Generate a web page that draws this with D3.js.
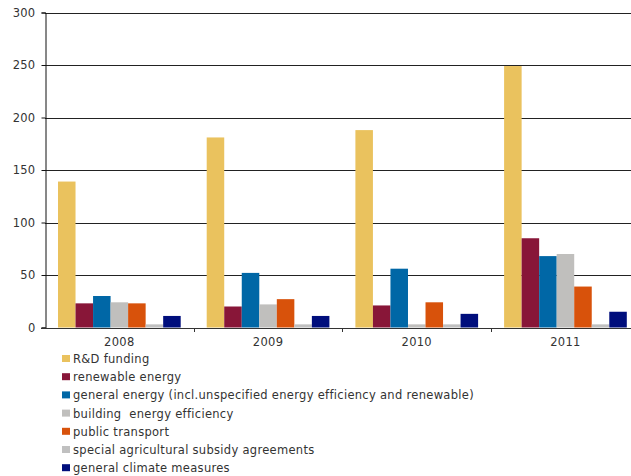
<!DOCTYPE html>
<html>
<head>
<meta charset="utf-8">
<script src="https://cdn.jsdelivr.net/npm/d3@7"></script>
<style>
  html, body { margin: 0; padding: 0; background: #fff; }
  svg { display: block; }
  text { font-family: "DejaVu Sans", Verdana, sans-serif; fill: #333; letter-spacing: 0.3px; }
</style>
</head>
<body>
<svg id="chart" width="631" height="476"></svg>
<script>
// Years on the x axis
const years = ["2008", "2009", "2010", "2011"];

// Funding categories (legend order)
const seriesNames = [
  "R&D funding",
  "renewable energy",
  "general energy (incl.unspecified energy efficiency and renewable)",
  "building  energy efficiency",
  "public transport",
  "special agricultural subsidy agreements",
  "general climate measures"
];

// One array per category, values for 2008..2011
const rdFunding        = [139, 181, 188, 249];
const renewableEnergy  = [23, 20, 21, 85];
const generalEnergy    = [30, 52, 56, 68];
const buildingEff      = [24, 22, 3, 70];
const publicTransport  = [23, 27, 24, 39];
const agriAgreements   = [3, 3, 3, 3];
const climateMeasures  = [11, 11, 13, 15];

const yTicks = [0, 50, 100, 150, 200, 250, 300];

const seriesValues = [rdFunding, renewableEnergy, generalEnergy, buildingEff,
                      publicTransport, agriAgreements, climateMeasures];
const colors = ["#EAC25E", "#881638", "#0067A6", "#C0BFBD", "#D8520B", "#C0C0C0", "#000E7C"];

const svg = d3.select("#chart");
const margin = { left: 45, top: 12.5, bottom: 327.5 };
const bandStep = 148.7;
const plotRight = margin.left + bandStep * years.length;

const x = d3.scaleBand()
  .domain(years)
  .range([margin.left, plotRight])
  .paddingInner(0)
  .paddingOuter(0);

const xs = d3.scaleBand()
  .domain(d3.range(seriesNames.length))
  .range([13, bandStep - 13])
  .padding(0);

const y = d3.scaleLinear()
  .domain([0, 300])
  .range([margin.bottom, margin.top]);

// Horizontal gridlines
svg.append("g")
  .selectAll("line")
  .data(yTicks.filter(d => d > 0))
  .join("line")
  .attr("x1", margin.left)
  .attr("x2", 631)
  .attr("y1", d => Math.round(y(d)) + 0.5)
  .attr("y2", d => Math.round(y(d)) + 0.5)
  .attr("stroke", "#222")
  .attr("stroke-width", 1);

// Bars
const groups = svg.append("g")
  .selectAll("g")
  .data(years)
  .join("g")
  .attr("transform", d => `translate(${x(d)},0)`);

groups.selectAll("rect")
  .data((yr, i) => seriesValues.map((vals, s) => ({ s, v: vals[i] })))
  .join("rect")
  .attr("x", d => xs(d.s))
  .attr("width", xs.bandwidth())
  .attr("y", d => y(d.v))
  .attr("height", d => y(0) - y(d.v))
  .attr("fill", d => colors[d.s]);

// Y axis
const yAxis = d3.axisLeft(y)
  .tickValues(yTicks)
  .tickSize(4)
  .tickPadding(6);
const gy = svg.append("g")
  .attr("transform", `translate(${margin.left + 0.5},0)`)
  .call(yAxis);
gy.select(".domain").attr("stroke", "#111");
gy.selectAll(".tick line").attr("stroke", "#111");
gy.selectAll(".tick text")
  .attr("font-size", 11.5)
  .attr("font-family", "DejaVu Sans, Verdana, sans-serif")
  .attr("fill", "#333");

// X axis (ticks at band boundaries)
svg.append("line")
  .attr("x1", margin.left - 4).attr("x2", 631)
  .attr("y1", Math.round(y(0)) + 0.5).attr("y2", Math.round(y(0)) + 0.5)
  .attr("stroke", "#333");

svg.append("g")
  .selectAll("line")
  .data(years)
  .join("line")
  .attr("x1", d => Math.round(x(d) + bandStep) + 0.5)
  .attr("x2", d => Math.round(x(d) + bandStep) + 0.5)
  .attr("y1", Math.round(y(0)))
  .attr("y2", Math.round(y(0)) + 4)
  .attr("stroke", "#333");

svg.append("g")
  .selectAll("text")
  .data(years)
  .join("text")
  .attr("x", d => x(d) + bandStep / 2)
  .attr("y", 346)
  .attr("text-anchor", "middle")
  .attr("font-size", 11.5)
  .text(d => d);

// Legend
const legend = svg.append("g")
  .selectAll("g")
  .data(seriesNames)
  .join("g")
  .attr("transform", (d, i) => `translate(62,${359 + i * 18.2})`);

legend.append("rect")
  .attr("x", 0).attr("y", -4)
  .attr("width", 8).attr("height", 7)
  .attr("fill", (d, i) => colors[i]);

legend.append("text")
  .attr("x", 11)
  .attr("y", 4)
  .attr("font-size", 11.5)
  .style("white-space", "pre")
  .attr("xml:space", "preserve")
  .text(d => d);
</script>
</body>
</html>
